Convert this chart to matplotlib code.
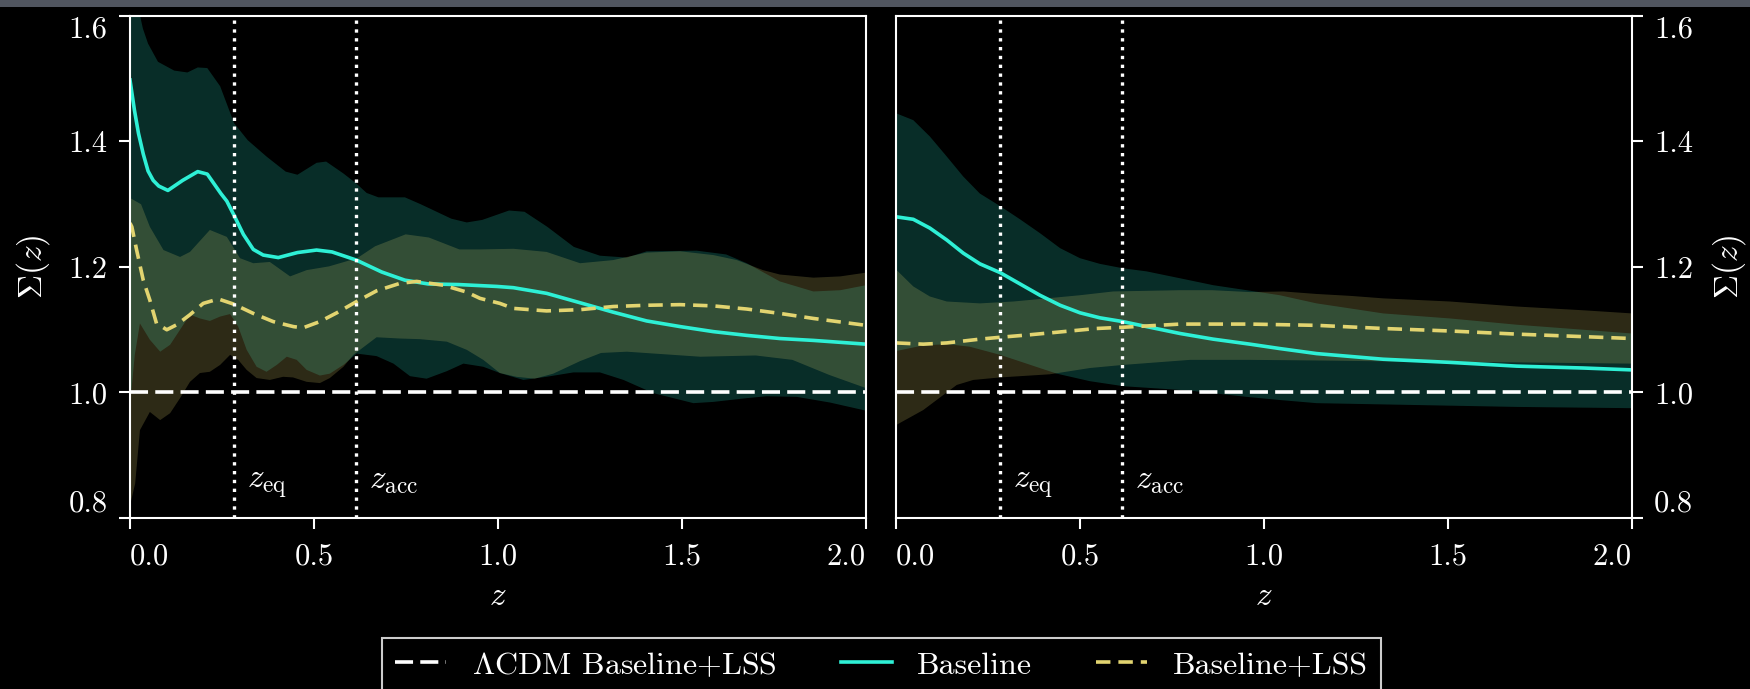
import numpy as np
import matplotlib.pyplot as plt
from matplotlib.patches import Rectangle

plt.rcParams['font.family'] = 'serif'
plt.rcParams['font.serif'] = ['cmr10']
plt.rcParams['mathtext.fontset'] = 'cm'
plt.rcParams['axes.unicode_minus'] = False
plt.rcParams['axes.formatter.use_mathtext'] = True

CYAN = '#2ef0d6'
YELLOW = '#e2d470'

# transition redshifts
Z_EQ = 0.283
Z_ACC = 0.615

# ---- left panel: Baseline (line + band) ----
left_base_z = [0, 0.012, 0.023, 0.036, 0.049, 0.063, 0.078, 0.103, 0.143, 0.184, 0.21, 0.247,
               0.263, 0.283, 0.308, 0.335, 0.362, 0.403, 0.455, 0.507, 0.549, 0.615, 0.684,
               0.747, 0.81, 0.893, 0.997, 1.042, 1.132, 1.223, 1.313, 1.404, 1.495, 1.585,
               1.676, 1.766, 1.857, 2.0]
left_base = [1.498, 1.45, 1.413, 1.38, 1.353, 1.338, 1.329, 1.322, 1.338, 1.352, 1.348, 1.317,
             1.305, 1.282, 1.252, 1.228, 1.219, 1.215, 1.223, 1.227, 1.224, 1.211, 1.192,
             1.179, 1.173, 1.172, 1.169, 1.167, 1.158, 1.143, 1.128, 1.114, 1.105, 1.097,
             1.091, 1.086, 1.083, 1.077]

left_base_up_z = [0, 0.02, 0.035, 0.049, 0.076, 0.12, 0.156, 0.184, 0.21, 0.245, 0.283, 0.32,
                  0.371, 0.423, 0.455, 0.507, 0.533, 0.58, 0.615, 0.643, 0.675, 0.747, 0.79,
                  0.873, 0.915, 0.957, 1.03, 1.072, 1.134, 1.206, 1.277, 1.35, 1.404, 1.54,
                  1.62, 1.676, 1.766, 1.857, 1.93, 2.0]
left_base_up = [1.70, 1.62, 1.58, 1.556, 1.527, 1.513, 1.510, 1.518, 1.517, 1.488, 1.429, 1.402,
                1.376, 1.352, 1.347, 1.366, 1.368, 1.349, 1.333, 1.318, 1.311, 1.311, 1.300,
                1.277, 1.271, 1.275, 1.290, 1.288, 1.264, 1.232, 1.218, 1.215, 1.225, 1.226,
                1.220, 1.206, 1.177, 1.161, 1.163, 1.171]

left_base_lo_z = [0, 0.013, 0.027, 0.054, 0.082, 0.109, 0.136, 0.163, 0.19, 0.217, 0.245, 0.272,
                  0.294, 0.317, 0.344, 0.371, 0.399, 0.426, 0.453, 0.48, 0.516, 0.543, 0.58,
                  0.616, 0.67, 0.716, 0.761, 0.806, 0.861, 0.906, 0.96, 1.005, 1.069, 1.132,
                  1.205, 1.277, 1.341, 1.422, 1.531, 1.585, 1.676, 1.73, 1.812, 1.902, 2.0]
left_base_lo = [0.98, 1.06, 1.110, 1.084, 1.065, 1.076, 1.100, 1.124, 1.118, 1.114, 1.121, 1.125,
                1.105, 1.068, 1.041, 1.033, 1.044, 1.057, 1.052, 1.036, 1.027, 1.030, 1.044,
                1.062, 1.058, 1.046, 1.026, 1.022, 1.034, 1.046, 1.041, 1.031, 1.020, 1.025,
                1.032, 1.032, 1.020, 0.999, 0.983, 0.985, 0.991, 0.994, 0.993, 0.984, 0.971]

# ---- left panel: Baseline+LSS (line + band) ----
left_lss_z = [0, 0.005, 0.018, 0.036, 0.054, 0.072, 0.1, 0.127, 0.163, 0.199, 0.24, 0.281,
              0.335, 0.389, 0.444, 0.47, 0.516, 0.562, 0.616, 0.67, 0.734, 0.779, 0.851,
              0.915, 0.951, 1.005, 1.042, 1.132, 1.223, 1.313, 1.404, 1.495, 1.585, 1.676,
              1.766, 1.857, 2.0]
left_lss = [1.27, 1.264, 1.227, 1.179, 1.147, 1.110, 1.100, 1.108, 1.124, 1.142, 1.149, 1.141,
            1.126, 1.113, 1.105, 1.103, 1.113, 1.127, 1.145, 1.162, 1.174, 1.177, 1.171,
            1.160, 1.150, 1.142, 1.134, 1.130, 1.132, 1.137, 1.139, 1.140, 1.138, 1.133,
            1.126, 1.118, 1.107]

left_lss_up_z = [0, 0.03, 0.054, 0.091, 0.136, 0.163, 0.217, 0.263, 0.299, 0.335, 0.38, 0.435,
                 0.48, 0.541, 0.617, 0.666, 0.749, 0.812, 0.895, 0.951, 1.042, 1.132, 1.223,
                 1.313, 1.404, 1.495, 1.585, 1.649, 1.72, 1.766, 1.857, 1.93, 2.0]
left_lss_up = [1.31, 1.30, 1.264, 1.227, 1.216, 1.224, 1.259, 1.248, 1.214, 1.206, 1.208, 1.185,
               1.195, 1.201, 1.214, 1.233, 1.252, 1.247, 1.228, 1.228, 1.229, 1.224, 1.206,
               1.211, 1.223, 1.225, 1.219, 1.211, 1.195, 1.188, 1.183, 1.185, 1.191]

left_lss_lo_z = [0, 0.014, 0.027, 0.054, 0.082, 0.109, 0.136, 0.163, 0.19, 0.217, 0.245, 0.272,
                 0.294, 0.317, 0.344, 0.38, 0.416, 0.443, 0.48, 0.516, 0.543, 0.58, 0.607,
                 0.67, 0.734, 0.788, 0.861, 0.915, 0.96, 1.005, 1.05, 1.10, 1.15, 1.223, 1.28,
                 1.35, 1.45, 1.55, 1.7, 1.8, 1.9, 2.0]
left_lss_lo = [0.82, 0.855, 0.940, 0.969, 0.956, 0.967, 0.991, 1.017, 1.031, 1.033, 1.044, 1.060,
               1.052, 1.036, 1.023, 1.020, 1.025, 1.024, 1.017, 1.015, 1.023, 1.041, 1.060,
               1.088, 1.086, 1.085, 1.081, 1.068, 1.052, 1.031, 1.025, 1.022, 1.03, 1.05, 1.063,
               1.065, 1.061, 1.057, 1.059, 1.052, 1.028, 1.007]

# ---- right panel: Baseline ----
right_base_z = [0, 0.047, 0.092, 0.138, 0.183, 0.228, 0.283, 0.337, 0.391, 0.446, 0.5, 0.554,
                0.616, 0.681, 0.772, 0.862, 0.962, 1.043, 1.143, 1.324, 1.505, 1.687, 1.868, 2.0]
right_base = [1.280, 1.276, 1.262, 1.243, 1.222, 1.205, 1.191, 1.173, 1.155, 1.139, 1.127, 1.119,
              1.113, 1.105, 1.094, 1.085, 1.077, 1.070, 1.062, 1.053, 1.048, 1.042, 1.039, 1.036]

right_base_up_z = [0, 0.047, 0.092, 0.138, 0.183, 0.228, 0.283, 0.337, 0.391, 0.446, 0.5, 0.554,
                   0.616, 0.681, 0.772, 0.862, 0.953, 1.043, 1.143, 1.234, 1.324, 1.505, 1.687,
                   1.868, 2.0]
right_base_up = [1.445, 1.434, 1.408, 1.376, 1.344, 1.317, 1.297, 1.276, 1.254, 1.230, 1.214,
                 1.205, 1.198, 1.193, 1.182, 1.171, 1.163, 1.155, 1.142, 1.134, 1.126, 1.118,
                 1.108, 1.100, 1.094]

right_base_lo_z = [0, 0.074, 0.14, 0.2, 0.283, 0.36, 0.437, 0.527, 0.618, 0.799, 0.953, 1.043,
                   1.143, 1.415, 1.687, 2.0]
right_base_lo = [1.066, 1.075, 1.077, 1.073, 1.060, 1.045, 1.030, 1.018, 1.010, 1.003, 0.993,
                 0.988, 0.983, 0.980, 0.977, 0.975]

# ---- right panel: Baseline+LSS ----
right_lss_z = [0, 0.074, 0.138, 0.228, 0.283, 0.364, 0.455, 0.545, 0.618, 0.681, 0.772, 0.862,
               0.962, 1.143, 1.324, 1.505, 1.687, 1.868, 2.0]
right_lss = [1.079, 1.077, 1.079, 1.085, 1.088, 1.092, 1.097, 1.102, 1.104, 1.106, 1.109, 1.109,
             1.109, 1.107, 1.102, 1.098, 1.093, 1.089, 1.086]

right_lss_up_z = [0, 0.047, 0.092, 0.138, 0.228, 0.319, 0.41, 0.5, 0.59, 0.68, 0.77, 0.86, 0.962,
                  1.053, 1.143, 1.234, 1.324, 1.505, 1.687, 1.868, 2.0]
right_lss_up = [1.196, 1.169, 1.153, 1.145, 1.142, 1.145, 1.150, 1.155, 1.161, 1.162, 1.163, 1.163,
                1.160, 1.161, 1.157, 1.154, 1.150, 1.145, 1.137, 1.131, 1.126]

right_lss_lo_z = [0, 0.074, 0.165, 0.21, 0.283, 0.418, 0.527, 0.618, 0.799, 0.962, 1.143, 1.415,
                  1.687, 2.0]
right_lss_lo = [0.948, 0.972, 1.012, 1.020, 1.024, 1.029, 1.039, 1.044, 1.052, 1.052, 1.051, 1.049,
                1.048, 1.046]

x_ticks = [0.0, 0.5, 1.0, 1.5, 2.0]
x_labels = ['0.0', '0.5', '1.0', '1.5', '2.0']
y_ticks = [0.8, 1.0, 1.2, 1.4, 1.6]
y_labels = ['0.8', '1.0', '1.2', '1.4', '1.6']


def band(ax, z_up, up, z_lo, lo, color, alpha):
    """ Fill a band whose edges are sampled on different z grids. """
    xs = np.concatenate([z_up, z_lo[::-1]])
    ys = np.concatenate([up, lo[::-1]])
    ax.fill(xs, ys, color=color, alpha=alpha, lw=0)


def style_axis(ax, right=False):
    ax.set_facecolor('black')
    ax.set_xlim(0, 2)
    ax.set_ylim(0.8, 1.6)
    for sp in ax.spines.values():
        sp.set_color('white')
        sp.set_linewidth(1.5)
    ax.tick_params(direction='out', length=8, width=1.5, colors='white', labelsize=22)
    ax.tick_params(axis='x', pad=10)
    ax.tick_params(axis='y', pad=8)
    ax.set_xticks(x_ticks)
    ax.set_xticklabels(x_labels)
    ax.set_yticks(y_ticks)
    ax.set_yticklabels(y_labels)
    if right:
        ax.yaxis.tick_right()
        ax.yaxis.set_label_position('right')
    # keep the outermost labels inside the frame
    xl = ax.get_xticklabels()
    xl[0].set_ha('left')
    xl[-1].set_ha('right')
    yticks = ax.yaxis.get_major_ticks()
    for t in (yticks[0].label1, yticks[0].label2):
        t.set_va('bottom')
    for t in (yticks[-1].label1, yticks[-1].label2):
        t.set_va('top')
    ax.set_xlabel(r'$z$', color='white', fontsize=24, labelpad=8)
    ax.set_ylabel(r'$\Sigma(z)$', color='white', fontsize=24, labelpad=12)


def draw_panel(ax, base_z, base, bu_z, bu, bl_z, bl, lss_z, lss, lu_z, lu, ll_z, ll):
    band(ax, bu_z, bu, bl_z, bl, CYAN, 0.19)
    band(ax, lu_z, lu, ll_z, ll, YELLOW, 0.2)
    h0 = ax.axhline(1.0, color='white', ls=(0, (5, 2)), lw=2.6)
    h1, = ax.plot(base_z, base, color=CYAN, lw=2.6)
    h2, = ax.plot(lss_z, lss, color=YELLOW, lw=2.6, ls=(0, (4, 2.2)))
    for zc, name in [(Z_EQ, r'$z_{\rm eq}$'), (Z_ACC, r'$z_{\rm acc}$')]:
        ax.axvline(zc, color='white', ls=':', lw=2.4)
        ax.text(zc + 0.035, 0.848, name, color='white', fontsize=24, va='baseline')
    return [h0, h1, h2]


fig = plt.figure(figsize=(17.5, 6.89), dpi=100, facecolor='black')
ax1 = fig.add_axes([0.07429, 0.2482, 0.42057, 0.7286])
ax2 = fig.add_axes([0.512, 0.2482, 0.42057, 0.7286])

handles = draw_panel(ax1, left_base_z, left_base, left_base_up_z, left_base_up,
                     left_base_lo_z, left_base_lo, left_lss_z, left_lss,
                     left_lss_up_z, left_lss_up, left_lss_lo_z, left_lss_lo)
draw_panel(ax2, right_base_z, right_base, right_base_up_z, right_base_up,
           right_base_lo_z, right_base_lo, right_lss_z, right_lss,
           right_lss_up_z, right_lss_up, right_lss_lo_z, right_lss_lo)

style_axis(ax1)
style_axis(ax2, right=True)

leg = fig.legend(handles, [r'$\Lambda$CDM Baseline+LSS', 'Baseline', 'Baseline+LSS'],
                 loc='upper center', bbox_to_anchor=(0.5037, 0.074), borderaxespad=0,
                 ncol=3, fancybox=False, facecolor='black', edgecolor='#cccccc',
                 framealpha=1, fontsize=23, handlelength=1.6, labelcolor='white')
leg.get_frame().set_linewidth(1.5)

# grey strip along the top edge
fig.add_artist(Rectangle((0, 1 - 7 / 689), 1, 7 / 689, transform=fig.transFigure,
                         color='#50555f', lw=0))

fig.savefig('out.png', dpi=100, facecolor='black')
